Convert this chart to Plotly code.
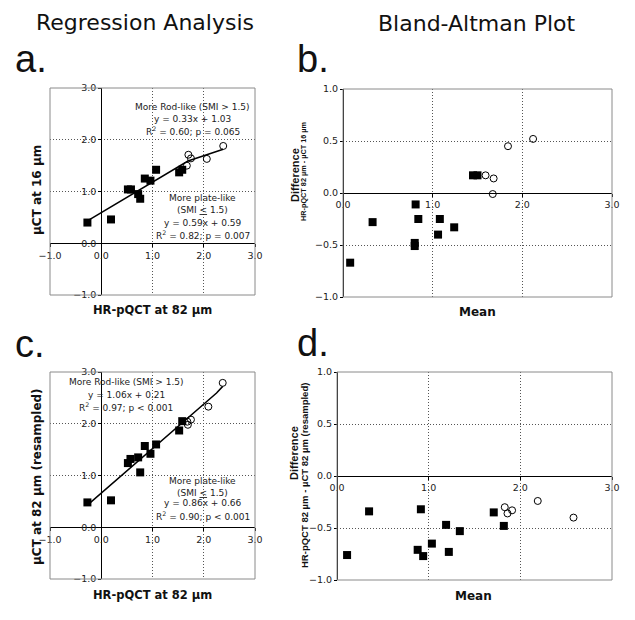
import plotly.graph_objects as go

# ---------------- data ----------------
# Panel a: regression, uCT 16 um vs HR-pQCT 82 um
a_plate_x = [-0.27, 0.19, 0.52, 0.58, 0.72, 0.76, 0.85, 0.96, 1.07, 1.52, 1.58]
a_plate_y = [0.40, 0.46, 1.04, 1.04, 0.95, 0.86, 1.25, 1.21, 1.42, 1.37, 1.42]
a_rod_x = [1.70, 1.75, 1.67, 2.06, 2.38]
a_rod_y = [1.71, 1.64, 1.50, 1.63, 1.88]
a_plate_fit = (0.59, 0.59)   # slope, intercept
a_rod_fit = (0.33, 1.03)

# Panel b: Bland-Altman (mean, difference)
b_plate_x = [0.08, 0.33, 0.81, 0.84, 0.80, 0.80, 1.06, 1.08, 1.24, 1.45, 1.50]
b_plate_y = [-0.67, -0.28, -0.11, -0.25, -0.48, -0.51, -0.40, -0.25, -0.33, 0.17, 0.17]
b_rod_x = [1.59, 1.68, 1.67, 1.84, 2.12]
b_rod_y = [0.17, 0.14, -0.01, 0.45, 0.52]

# Panel c: regression, uCT 82 um (resampled) vs HR-pQCT 82 um
c_plate_x = [-0.27, 0.19, 0.52, 0.57, 0.72, 0.76, 0.85, 0.96, 1.07, 1.52, 1.58]
c_plate_y = [0.48, 0.52, 1.24, 1.32, 1.35, 1.06, 1.57, 1.42, 1.60, 1.87, 2.05]
c_rod_x = [1.69, 1.75, 1.68, 2.09, 2.37]
c_rod_y = [1.98, 2.08, 2.04, 2.33, 2.79]
c_plate_fit = (0.86, 0.66)
c_rod_fit = (1.06, 0.21)

# Panel d: Bland-Altman (mean, difference)
d_plate_x = [0.11, 0.35, 0.915, 0.88, 0.94, 1.035, 1.19, 1.22, 1.34, 1.71, 1.82]
d_plate_y = [-0.76, -0.34, -0.32, -0.71, -0.77, -0.65, -0.47, -0.73, -0.53, -0.35, -0.48]
d_rod_x = [1.83, 1.86, 1.91, 2.19, 2.58]
d_rod_y = [-0.30, -0.36, -0.33, -0.24, -0.40]

a_rod_text = ["More Rod-like (SMI &gt; 1.5)", "y = 0.33x + 1.03", "R<sup>2</sup> = 0.60; p = 0.065"]
a_plate_text = ["More plate-like", "(SMI <u>&lt;</u> 1.5)", "y = 0.59x + 0.59", "R<sup>2</sup> = 0.82; p = 0.007"]
c_rod_text = ["More Rod-like (SMI &gt; 1.5)", "y = 1.06x + 0.21", "R<sup>2</sup> = 0.97; p &lt; 0.001"]
c_plate_text = ["More plate-like", "(SMI <u>&lt;</u> 1.5)", "y = 0.86x + 0.66", "R<sup>2</sup> = 0.90; p &lt; 0.001"]

W, H = 635, 620
TICKFONT = dict(family="DejaVu Sans", size=9.5, color="#222")
ANNFONT = dict(family="DejaVu Sans", size=9, color="#222")


def px_x(v):
    return v / W


def px_y(v):
    return 1 - v / H


fig = go.Figure()


def fit_segments(fit1, fit2, xmin, xmax):
    m1, b1 = fit1
    m2, b2 = fit2
    xb = (b2 - b1) / (m1 - m2)
    xs = [xmin, xb, xb, xmax]
    ys = [m1 * xmin + b1, m1 * xb + b1, m2 * xb + b2, m2 * xmax + b2]
    return xs, ys


def add_panel(sfx, px, py, rx, ry, fits=None):
    xa, ya = "x" + sfx, "y" + sfx
    if fits is not None:
        lx, ly = fit_segments(fits[0], fits[1], min(px), max(rx))
        fig.add_trace(go.Scatter(x=lx, y=ly, mode="lines", xaxis=xa, yaxis=ya,
                                 line=dict(color="black", width=1.5), showlegend=False,
                                 hoverinfo="skip"))
    fig.add_trace(go.Scatter(x=px, y=py, mode="markers", xaxis=xa, yaxis=ya,
                             marker=dict(symbol="square", size=8, color="black"),
                             showlegend=False))
    fig.add_trace(go.Scatter(x=rx, y=ry, mode="markers", xaxis=xa, yaxis=ya,
                             marker=dict(symbol="circle-open", size=7, color="black",
                                         line=dict(width=1)),
                             showlegend=False))


add_panel("", a_plate_x, a_plate_y, a_rod_x, a_rod_y, (a_plate_fit, a_rod_fit))
add_panel("2", b_plate_x, b_plate_y, b_rod_x, b_rod_y)
add_panel("3", c_plate_x, c_plate_y, c_rod_x, c_rod_y, (c_plate_fit, c_rod_fit))
add_panel("4", d_plate_x, d_plate_y, d_rod_x, d_rod_y)

# panel boxes in pixels: left, right, top, bottom
boxes = {
    "": (50, 255, 88, 295),
    "2": (343, 612, 89, 297),
    "3": (50, 255, 372, 579),
    "4": (337, 612, 372, 580),
}
ranges = {
    "": ([-1, 3], [-1, 3], 1, 1),
    "2": ([0, 3], [-1, 1], 1, 0.5),
    "3": ([-1, 3], [-1, 3], 1, 1),
    "4": ([0, 3], [-1, 1], 1, 0.5),
}

for sfx, (l, r, t, b) in boxes.items():
    xr, yr, dx, dy = ranges[sfx]
    xd = [px_x(l), px_x(r)]
    yd = [px_y(b), px_y(t)]
    # position of the zero crossing in paper coords
    xpos = xd[0] + (0 - xr[0]) / (xr[1] - xr[0]) * (xd[1] - xd[0])
    ypos = yd[0] + (0 - yr[0]) / (yr[1] - yr[0]) * (yd[1] - yd[0])
    common = dict(showgrid=True, gridcolor="#555", griddash="1px,2px", gridwidth=1,
                  zeroline=False, showline=True, linecolor="black", linewidth=1,
                  ticks="outside", ticklen=3, tickcolor="black", tickwidth=1,
                  tickfont=TICKFONT, tickformat=".1f", anchor="free", fixedrange=True,
                  automargin=False)
    fig.layout["xaxis" + sfx] = dict(domain=xd, range=xr, dtick=dx, tick0=0,
                                     position=ypos, **common)
    fig.layout["yaxis" + sfx] = dict(domain=yd, range=yr, dtick=dy, tick0=0,
                                     position=xpos, **common)
    fig.add_shape(type="rect", xref=("x" + sfx + " domain"), yref=("y" + sfx + " domain"),
                  x0=0, x1=1, y0=0, y1=1, line=dict(color="#8a8a8a", width=1), layer="above")

ann = []


def block(lines, sfx, xc, ys):
    for txt, yv in zip(lines, ys):
        ann.append(dict(text=txt, xref="x" + sfx, yref="y" + sfx, x=xc, y=yv,
                        showarrow=False, font=ANNFONT, xanchor="center", yanchor="middle"))


block(a_rod_text, "", 1.79, [2.64, 2.41, 2.16])
block(a_plate_text, "", 1.985, [0.88, 0.65, 0.40, 0.16])
block(c_rod_text, "3", 0.49, [2.80, 2.56, 2.33])
block(c_plate_text, "3", 1.985, [0.90, 0.67, 0.46, 0.21])


def ptext(txt, x, y, font, angle=0, xanchor="center", yanchor="middle"):
    ann.append(dict(text=txt, xref="paper", yref="paper", x=px_x(x), y=px_y(y),
                    showarrow=False, font=font, textangle=angle,
                    xanchor=xanchor, yanchor=yanchor))


HEAD = dict(family="DejaVu Sans", size=22, color="#111")
LETTER = dict(family="Liberation Sans", size=38, color="#111")
ptext("Regression Analysis", 145, 22, HEAD)
ptext("Bland-Altman Plot", 477, 24, HEAD)
ptext("a.", 13, 59, LETTER, xanchor="left")
ptext("b.", 295, 59, LETTER, xanchor="left")
ptext("c.", 13, 344, LETTER, xanchor="left")
ptext("d.", 295, 343, LETTER, xanchor="left")

BT = dict(family="DejaVu Sans", size=11.5, color="#111")
BTY = dict(family="DejaVu Sans", size=12, color="#111")
ptext("<b>µCT at 16 µm</b>", 37, 190, BTY, angle=-90)
ptext("<b>HR-pQCT at 82 µm</b>", 152, 310, BT)
ptext("<b>µCT at 82 µm (resampled)</b>", 37, 477, BTY, angle=-90)
ptext("<b>HR-pQCT at 82 µm</b>", 152, 595, BT)
ptext("<b>Mean</b>", 477, 312, BTY)
ptext("<b>Mean</b>", 473, 596, BTY)

DIFF = dict(family="Liberation Sans", size=11, color="#111")
ptext("<b>Difference</b>", 295, 175, DIFF, angle=-90)
ptext("<b>HR-pQCT 82 µm - µCT 16 µm</b>", 304, 172,
      dict(family="Liberation Sans", size=7.3, color="#111"), angle=-90)
ptext("<b>Difference</b>", 294, 453, DIFF, angle=-90)
ptext("<b>HR-pQCT 82 µm - µCT 82 µm (resampled)</b>", 304, 476,
      dict(family="Liberation Sans", size=9.5, color="#111"), angle=-90)

fig.update_layout(width=W, height=H,
                  margin=dict(l=0, r=0, t=0, b=0, pad=0, autoexpand=False),
                  paper_bgcolor="white", plot_bgcolor="white",
                  annotations=ann, showlegend=False)

fig.write_html("out.html", config={"displayModeBar": False, "staticPlot": True},
               post_script="document.body.style.margin='0';document.body.style.overflow='hidden';")
